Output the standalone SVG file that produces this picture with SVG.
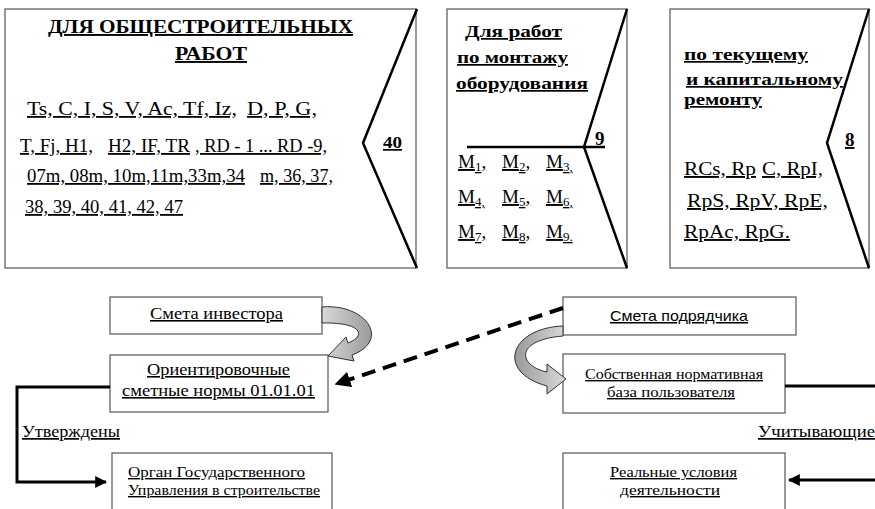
<svg xmlns="http://www.w3.org/2000/svg" width="875" height="509" viewBox="0 0 875 509">
<style>
.bx{fill:#fff;stroke:#555;stroke-width:1.2}
.chev{fill:none;stroke:#000;stroke-width:2.5;stroke-linejoin:miter}
.t{font-family:"Liberation Serif","Times New Roman",serif;fill:#000;text-decoration:underline}
.b{font-weight:bold}
.s{font-family:"Liberation Sans",Arial,sans-serif;fill:#000;text-decoration:underline}
.ln{fill:none;stroke:#000;stroke-width:3}
.gr{stroke:#333;stroke-width:1;fill:url(#g1)}
.sub{font-size:13px}
</style>
<defs>
<marker id="ah" viewBox="0 0 10 10" refX="9" refY="5" markerWidth="4" markerHeight="4" orient="auto" markerUnits="strokeWidth">
<path d="M0,0 L10,5 L0,10 Z" fill="#000"/>
</marker>
<linearGradient id="g1" x1="0" y1="0" x2="1" y2="0">
<stop offset="0" stop-color="#d8d8d8"/>
<stop offset="1" stop-color="#9a9a9a"/>
</linearGradient>
<linearGradient id="g2" x1="1" y1="0" x2="0" y2="0">
<stop offset="0" stop-color="#d8d8d8"/>
<stop offset="1" stop-color="#9a9a9a"/>
</linearGradient>
</defs>

<g id="box-general">
<rect class="bx" x="5" y="9" width="411" height="259"/>
<polyline class="chev" points="417,9 363,143 417,268"/>
<text class="t b" x="48" y="33" font-size="19" textLength="305" lengthAdjust="spacingAndGlyphs">ДЛЯ ОБЩЕСТРОИТЕЛЬНЫХ</text>
<text class="t b" x="175" y="60" font-size="19" textLength="72" lengthAdjust="spacingAndGlyphs">РАБОТ</text>
<text class="t" x="27" y="115" font-size="18" textLength="210" lengthAdjust="spacingAndGlyphs">Ts, C, I, S, V, Ac, Tf, Iz,</text>
<text class="t" x="247" y="115" font-size="18" textLength="70" lengthAdjust="spacingAndGlyphs">D, P, G,</text>
<text class="t" x="20" y="152" font-size="18" textLength="73" lengthAdjust="spacingAndGlyphs">T, Fj, H1,</text>
<text class="t" x="108" y="152" font-size="18" textLength="82" lengthAdjust="spacingAndGlyphs">H2, IF, TR</text>
<text class="t" x="195" y="152" font-size="18" textLength="132" lengthAdjust="spacingAndGlyphs">, RD - 1 ... RD -9,</text>
<text class="t" x="27" y="182" font-size="18" textLength="218" lengthAdjust="spacingAndGlyphs">07m, 08m, 10m,11m,33m,34</text>
<text class="t" x="260" y="182" font-size="18" textLength="73" lengthAdjust="spacingAndGlyphs">m, 36, 37,</text>
<text class="t" x="25" y="213" font-size="18" textLength="158" lengthAdjust="spacingAndGlyphs">38, 39, 40, 41, 42, 47</text>
<text class="t b" x="383" y="148" font-size="17" textLength="19" lengthAdjust="spacingAndGlyphs">40</text>
</g>

<g id="box-mounting">
<rect class="bx" x="447" y="9" width="180" height="259"/>
<polyline class="chev" points="627,9 584,147 627,268"/>
<line class="chev" x1="467" y1="147" x2="605" y2="147"/>
<text class="t b" x="465" y="37" font-size="17" textLength="97" lengthAdjust="spacingAndGlyphs">Для работ</text>
<text class="t b" x="457" y="63" font-size="17" textLength="111" lengthAdjust="spacingAndGlyphs">по монтажу</text>
<text class="t b" x="456" y="89" font-size="17" textLength="132" lengthAdjust="spacingAndGlyphs">оборудования</text>
<text class="t b" x="595" y="145" font-size="19">9</text>
<text class="t" x="458" y="168" font-size="19">M<tspan class="sub" dy="3">1</tspan><tspan dy="-3">, </tspan></text>
<text class="t" x="502" y="168" font-size="19">M<tspan class="sub" dy="3">2</tspan><tspan dy="-3">, </tspan></text>
<text class="t" x="546" y="168" font-size="19">M<tspan class="sub" dy="3">3</tspan><tspan class="sub">,</tspan></text>
<text class="t" x="458" y="203" font-size="19">M<tspan class="sub" dy="3">4,</tspan><tspan dy="-3"> </tspan></text>
<text class="t" x="502" y="203" font-size="19">M<tspan class="sub" dy="3">5</tspan><tspan dy="-3">, </tspan></text>
<text class="t" x="546" y="203" font-size="19">M<tspan class="sub" dy="3">6</tspan><tspan class="sub">,</tspan></text>
<text class="t" x="458" y="238" font-size="19">M<tspan class="sub" dy="3">7</tspan><tspan dy="-3">, </tspan></text>
<text class="t" x="502" y="238" font-size="19">M<tspan class="sub" dy="3">8</tspan><tspan dy="-3">, </tspan></text>
<text class="t" x="546" y="238" font-size="19">M<tspan class="sub" dy="3">9.</tspan></text>
</g>

<g id="box-repair">
<rect class="bx" x="670" y="9" width="199" height="259"/>
<polyline class="chev" points="869,9 827,143 869,268"/>
<text class="t b" x="684" y="60" font-size="17" textLength="124" lengthAdjust="spacingAndGlyphs">по текущему</text>
<text class="t b" x="686" y="85" font-size="17" textLength="157" lengthAdjust="spacingAndGlyphs">и капитальному</text>
<text class="t b" x="684" y="105" font-size="17" textLength="78" lengthAdjust="spacingAndGlyphs">ремонту</text>
<text class="t b" x="845" y="146" font-size="19">8</text>
<text class="t" x="684" y="175" font-size="19" textLength="72" lengthAdjust="spacingAndGlyphs">RCs, Rp</text>
<text class="t" x="762" y="175" font-size="19" textLength="61" lengthAdjust="spacingAndGlyphs">C, RpI,</text>
<text class="t" x="687" y="207" font-size="19" textLength="141" lengthAdjust="spacingAndGlyphs">RpS, RpV, RpE,</text>
<text class="t" x="684" y="238" font-size="19" textLength="106" lengthAdjust="spacingAndGlyphs">RpAc, RpG.</text>
</g>

<g id="smeta-investor">
<rect class="bx" x="110" y="297" width="212" height="37"/>
<text class="t" x="150" y="319" font-size="16" textLength="133" lengthAdjust="spacingAndGlyphs">Смета инвестора</text>
</g>
<g id="orient-norms">
<rect class="bx" x="110" y="355" width="218" height="57"/>
<text class="t" x="147" y="375" font-size="16" textLength="143" lengthAdjust="spacingAndGlyphs">Ориентировочные</text>
<text class="t" x="122" y="396" font-size="16" textLength="193" lengthAdjust="spacingAndGlyphs">сметные нормы 01.01.01</text>
</g>
<g id="organ">
<rect class="bx" x="112" y="453" width="220" height="70"/>
<text class="t" x="128" y="477" font-size="14" textLength="177" lengthAdjust="spacingAndGlyphs">Орган Государственного</text>
<text class="t" x="128" y="495" font-size="14" textLength="192" lengthAdjust="spacingAndGlyphs">Управления в строительстве</text>
</g>
<g id="smeta-contractor">
<rect class="bx" x="563" y="297" width="233" height="38"/>
<text class="s" x="610" y="321" font-size="15" textLength="138" lengthAdjust="spacingAndGlyphs">Смета подрядчика</text>
</g>
<g id="own-base">
<rect class="bx" x="563" y="354" width="222" height="59"/>
<text class="t" x="585" y="379" font-size="14" textLength="178" lengthAdjust="spacingAndGlyphs">Собственная нормативная</text>
<text class="t" x="607" y="397" font-size="14" textLength="128" lengthAdjust="spacingAndGlyphs">база пользователя</text>
</g>
<g id="real-cond">
<rect class="bx" x="563" y="453" width="222" height="70"/>
<text class="t" x="610" y="477" font-size="14" textLength="127" lengthAdjust="spacingAndGlyphs">Реальные условия</text>
<text class="t" x="620" y="495" font-size="14" textLength="100" lengthAdjust="spacingAndGlyphs">деятельности</text>
</g>

<g id="connectors">
<path class="gr" d="M322,307 C365,303 392,340 352,355 L354,361 L328,356 L346,337 L348,343 C368,335 360,322 322,323 Z"/>
<path class="gr" style="fill:url(#g2)" d="M563,326 C510,328 495,372 547,386 L547,394 L566,379 L547,364 L547,372 C518,366 514,340 563,336 Z"/>
<line x1="563" y1="308" x2="336" y2="384" stroke="#000" stroke-width="4" stroke-dasharray="14 8" marker-end="url(#ah)"/>
<path class="ln" d="M110,387 H17 V482 H106" marker-end="url(#ah)"/>
<path class="ln" d="M785,386 H875"/>
<path class="ln" d="M875,480 H789" marker-end="url(#ah)"/>
<text class="t" x="22" y="437" font-size="17" textLength="98" lengthAdjust="spacingAndGlyphs">Утверждены</text>
<text class="t" x="758" y="437" font-size="17" textLength="117" lengthAdjust="spacingAndGlyphs">Учитывающие</text>
</g>
</svg>
